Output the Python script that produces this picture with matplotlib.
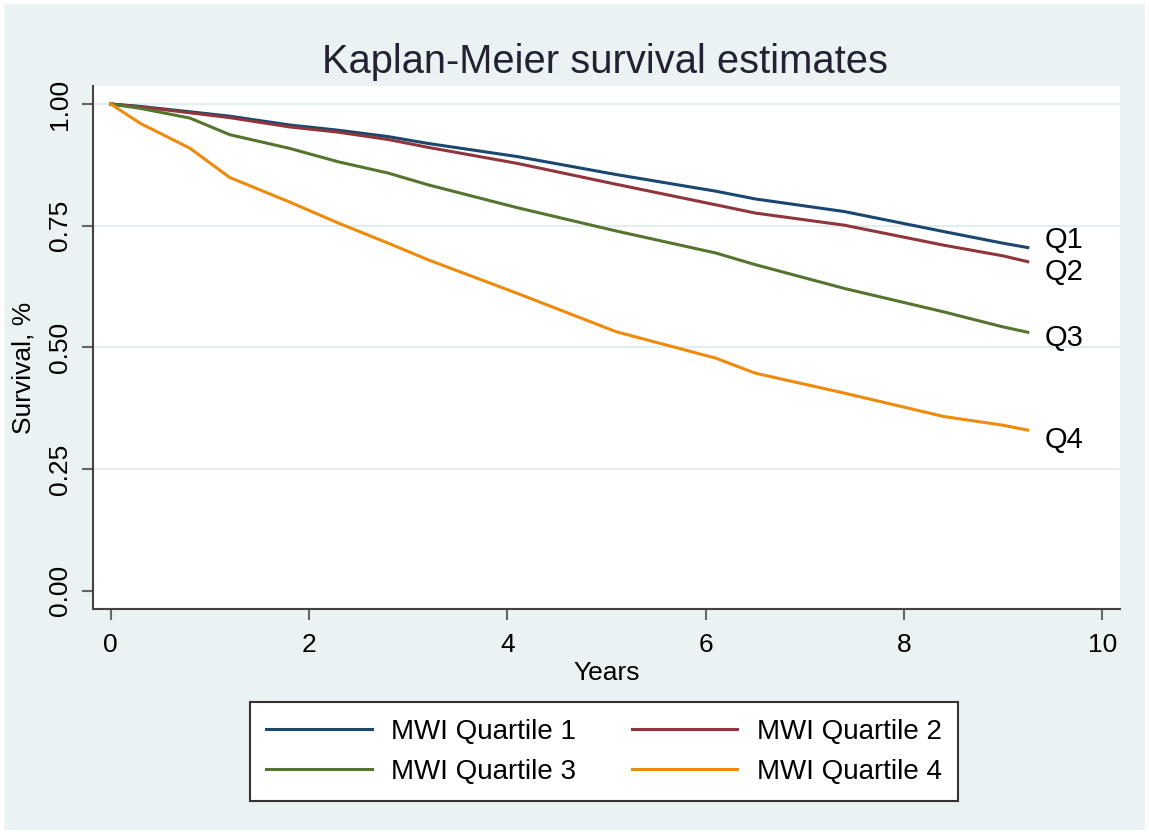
import matplotlib
matplotlib.use("Agg")
import matplotlib.pyplot as plt
from matplotlib.patches import Rectangle

plt.rcParams['font.family'] = ['Liberation Sans', 'DejaVu Sans']

# ---- data ----
years = [0, 0.3, 0.8, 1.2, 1.8, 2.3, 2.8, 3.2, 4.1, 5.1, 6.1, 6.5, 7.4, 8.4, 9.0, 9.25]
q1 = [1.0, 0.995, 0.984, 0.975, 0.957, 0.946, 0.933, 0.919, 0.892, 0.855, 0.821, 0.805, 0.779, 0.738, 0.714, 0.705]
q2 = [1.0, 0.994, 0.982, 0.972, 0.953, 0.942, 0.927, 0.911, 0.878, 0.835, 0.793, 0.776, 0.751, 0.710, 0.688, 0.676]
q3 = [1.0, 0.991, 0.971, 0.937, 0.909, 0.881, 0.858, 0.834, 0.787, 0.739, 0.694, 0.670, 0.621, 0.573, 0.542, 0.531]
q4 = [1.0, 0.960, 0.909, 0.849, 0.799, 0.755, 0.714, 0.680, 0.611, 0.532, 0.478, 0.447, 0.406, 0.358, 0.340, 0.330]
series = [q1, q2, q3, q4]
legend_labels = ["MWI Quartile 1", "MWI Quartile 2", "MWI Quartile 3", "MWI Quartile 4"]
end_labels = ["Q1", "Q2", "Q3", "Q4"]
end_label_y = [0.720, 0.654, 0.519, 0.309]
x_ticks = [0, 2, 4, 6, 8, 10]
y_ticks = [0.00, 0.25, 0.50, 0.75, 1.00]
y_ticklabels = ["0.00", "0.25", "0.50", "0.75", "1.00"]

colors = ["#1A476F", "#90353B", "#55752F", "#EE8A0C"]
bg = "#EAF2F3"

W, H = 1149, 834
fig = plt.figure(figsize=(W / 100, H / 100), dpi=100, facecolor=bg)
# thin white margin around the whole picture
fig.patches.append(Rectangle((0, 0), 1, 1, transform=fig.transFigure,
                             fill=False, edgecolor="white", lw=6, zorder=10))

ax = fig.add_axes([93 / W, 1 - 609 / H, (1120 - 93) / W, (609 - 86) / H])
ax.set_facecolor("white")

for ys in y_ticks[1:]:
    ax.axhline(ys, color="#E3ECEF", lw=1.5, zorder=1)

handles = []
for s, c, lab in zip(series, colors, legend_labels):
    h, = ax.plot(years, s, color=c, lw=2.2, label=lab, zorder=3)
    handles.append(h)

for lab, yv in zip(end_labels, end_label_y):
    ax.text(9.42, yv, lab, fontsize=21, color="black", ha="left", va="center")

ax.set_xlim(-0.179, 10.18)
ax.set_ylim(-0.0376, 1.037)
ax.set_xticks(x_ticks)
ax.set_xticklabels([str(v) for v in x_ticks])
ax.set_yticks(y_ticks)
ax.set_yticklabels(y_ticklabels, rotation=90, va="center")

for sp in ["top", "right"]:
    ax.spines[sp].set_visible(False)
for sp in ["left", "bottom"]:
    ax.spines[sp].set_color("#444444")
    ax.spines[sp].set_linewidth(1.5)

ax.tick_params(axis="both", direction="out", length=8, width=1.5,
               color="#666666", labelsize=19, labelcolor="black")
ax.tick_params(axis="x", pad=9)
ax.tick_params(axis="y", pad=7)

ax.set_xlabel("Years", fontsize=19)
ax.set_ylabel("Survival, %", fontsize=19)
ax.xaxis.set_label_coords(0.5, -0.100)
ax.yaxis.set_label_coords(-0.056, 0.461)

fig.text(605 / W, 1 - 62 / H, "Kaplan-Meier survival estimates",
         fontsize=28.7, ha="center", va="center", color="#222233")

# row-major order: Q1 Q2 / Q3 Q4 (matplotlib fills column-first)
order = [0, 2, 1, 3]
leg = fig.legend(handles=[handles[i] for i in order],
                 labels=[legend_labels[i] for i in order], ncol=2,
                 loc="upper center", bbox_to_anchor=(604 / W, 1 - 702 / H),
                 bbox_transform=fig.transFigure, fontsize=20,
                 frameon=True, fancybox=False, framealpha=1,
                 handlelength=3.8, handletextpad=0.7, columnspacing=2.0,
                 borderpad=0.6, labelspacing=0.5, borderaxespad=0)
leg.get_frame().set_edgecolor("#333333")
leg.get_frame().set_linewidth(1.5)
leg.get_frame().set_facecolor("white")

fig.savefig("out.png", dpi=100, facecolor=fig.get_facecolor())
